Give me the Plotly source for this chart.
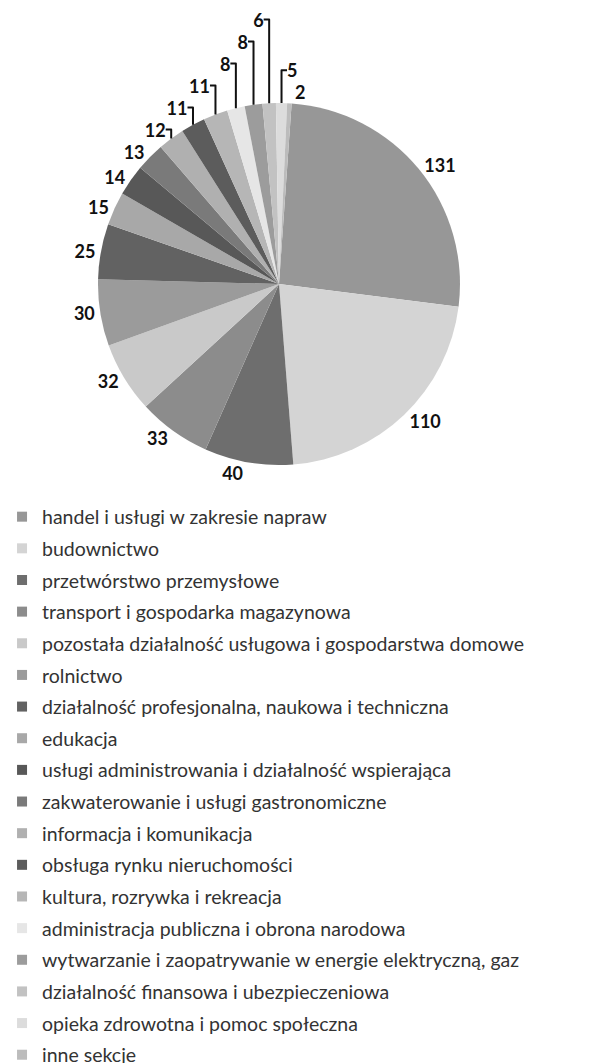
import plotly.graph_objects as go

# dane
sekcje = [
    'handel i usługi w zakresie napraw',
    'budownictwo',
    'przetwórstwo przemysłowe',
    'transport i gospodarka magazynowa',
    'pozostała działalność usługowa i gospodarstwa domowe',
    'rolnictwo',
    'działalność profesjonalna, naukowa i techniczna',
    'edukacja',
    'usługi administrowania i działalność wspierająca',
    'zakwaterowanie i usługi gastronomiczne',
    'informacja i komunikacja',
    'obsługa rynku nieruchomości',
    'kultura, rozrywka i rekreacja',
    'administracja publiczna i obrona narodowa',
    'wytwarzanie i zaopatrywanie w energie elektryczną, gaz',
    'działalność finansowa i ubezpieczeniowa',
    'opieka zdrowotna i pomoc społeczna',
    'inne sekcje',
]
liczba = [131, 110, 40, 33, 32, 30, 25, 15, 14, 13, 12, 11, 11, 8, 8, 6, 5, 2]
kolory = ['#979797', '#d4d4d4', '#6e6e6e', '#8c8c8c', '#c9c9c9', '#9b9b9b',
          '#626262', '#a8a8a8', '#585858', '#7a7a7a', '#b0b0b0', '#5c5c5c',
          '#b6b6b6', '#e6e6e6', '#9c9c9c', '#c2c2c2', '#dcdcdc', '#bcbcbc']

W, H = 596, 1063
# środek i promień koła (w pikselach wykresu)
cx, cy, r = 271, 276, 181

fig = go.Figure()

# lekki obrót, żeby etykiety 5 i 2 trafiły na prawą stronę (jak w oryginale)
fig.add_trace(go.Pie(
    labels=sekcje, values=liczba, sort=False, direction='clockwise', rotation=4,
    marker=dict(colors=kolory, line=dict(width=0)),
    textinfo='value', textposition='outside',
    textfont=dict(family='Lato', size=18, color='#111111', weight='bold'),
    domain=dict(x=[(cx - r) / W, (cx + r) / W], y=[(H - cy - r) / H, (H - cy + r) / H]),
    showlegend=False, hoverinfo='label+value',
))

# legenda - osobne wpisy, żeby ustawić odstępy
for nazwa, kol in zip(sekcje, kolory):
    fig.add_trace(go.Scatter(
        x=[None], y=[None], mode='markers', name=nazwa, legendgroup=nazwa,
        marker=dict(symbol='square', size=10, color=kol),
    ))

fig.update_layout(
    width=W, height=H,
    margin=dict(l=0, r=0, t=0, b=0, autoexpand=False),
    paper_bgcolor='white', plot_bgcolor='white',
    xaxis=dict(visible=False), yaxis=dict(visible=False),
    legend=dict(
        xref='paper', yref='paper', x=-0.01, y=1 - 489.5 / H,
        xanchor='left', yanchor='top', tracegroupgap=3.3, maxheight=1200,
        font=dict(family='Lato', size=19.5, color='#333333'),
        bgcolor='rgba(0,0,0,0)',
    ),
)

fig.write_html('out.html')
